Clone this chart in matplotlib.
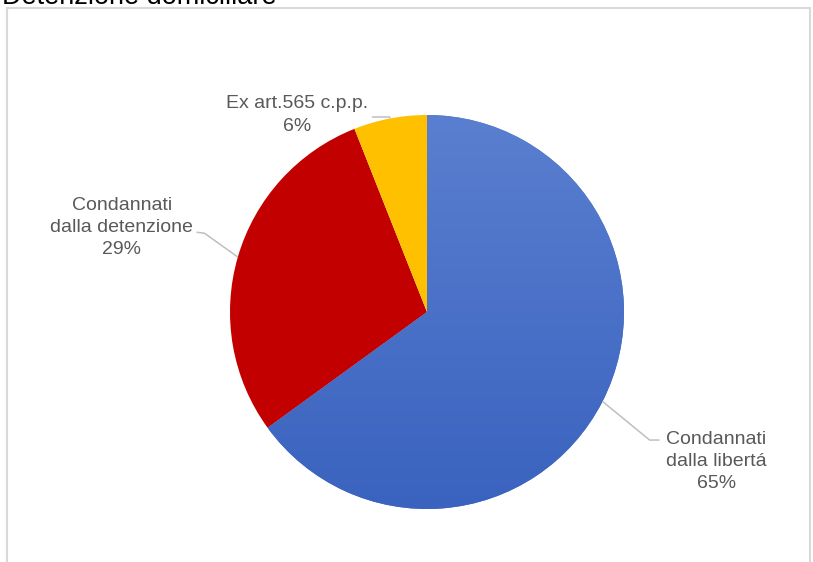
import numpy as np
import matplotlib
matplotlib.use('Agg')
import matplotlib.pyplot as plt
from matplotlib.patches import Rectangle
from matplotlib.colors import LinearSegmentedColormap

plt.rcParams['font.family'] = ['Liberation Sans', 'DejaVu Sans']

# dati
titolo = 'Detenzione domiciliare'
categorie = ['Condannati\ndalla libertá', 'Condannati\ndalla detenzione', 'Ex art.565 c.p.p.']
percentuali = [65, 29, 6]
colori = ['#4472C4', '#C30000', '#FFC000']
# sfumatura della fetta blu (alto -> basso)
sfumatura_blu = ['#3A63BF', '#5A7FD0']

# posizione etichette (in unità del raggio) e gomito della linea guida
pos_testo = [(1.47, -0.76), (-1.55, 0.43), (-0.66, 1.00)]
gomiti = [(1.13, -0.65), (-1.13, 0.40), (-0.19, 0.99)]
fine_linea = [(1.18, -0.65), (-1.17, 0.405), (-0.28, 0.99)]

W, H = 813, 562
fig = plt.figure(figsize=(W / 100, H / 100), dpi=100)

# cornice grigia del grafico
fig.patches.append(Rectangle((7 / W, -0.05), (810 - 7) / W, 1.05 - 8 / H,
                             transform=fig.transFigure, fill=False,
                             edgecolor='#d9d9d9', lw=1.5))

# titolo (tagliato in alto come nell'originale)
fig.text(2 / W, 1 - 4 / H, titolo, fontsize=19.5, color='#000000',
         ha='left', va='baseline')

cx, cy, r = 427, 312, 197
ax = fig.add_axes([(cx - r) / W, (H - cy - r) / H, 2 * r / W, 2 * r / H])
wedges, _ = ax.pie(percentuali, colors=colori, startangle=90, counterclock=False,
                   radius=1.0, wedgeprops=dict(linewidth=0))

# gradiente verticale sulla fetta blu
cmap = LinearSegmentedColormap.from_list('blu', sfumatura_blu)
grad = np.linspace(0, 1, 256).reshape(-1, 1)
img = ax.imshow(grad, cmap=cmap, extent=(-1, 1, -1, 1), origin='lower',
                aspect='auto', zorder=wedges[0].get_zorder() + 0.1)
img.set_clip_path(wedges[0])

ax.set_xlim(-1, 1)
ax.set_ylim(-1, 1)
ax.set_aspect('equal')
ax.axis('off')

for w, cat, p, (tx, ty), (ex, ey), (fx, fy) in zip(wedges, categorie, percentuali,
                                                  pos_testo, gomiti, fine_linea):
    ang = np.deg2rad((w.theta1 + w.theta2) / 2)
    px, py = np.cos(ang), np.sin(ang)
    ax.plot([px, ex, fx], [py, ey, fy], color='#bfbfbf', lw=1.1,
            clip_on=False, solid_capstyle='butt', zorder=5)
    ax.text(tx, ty, f'{cat}\n{p}%', ha='center', va='center', fontsize=14,
            color='#595959', linespacing=1.4, clip_on=False)

fig.savefig('out.png', dpi=100)
